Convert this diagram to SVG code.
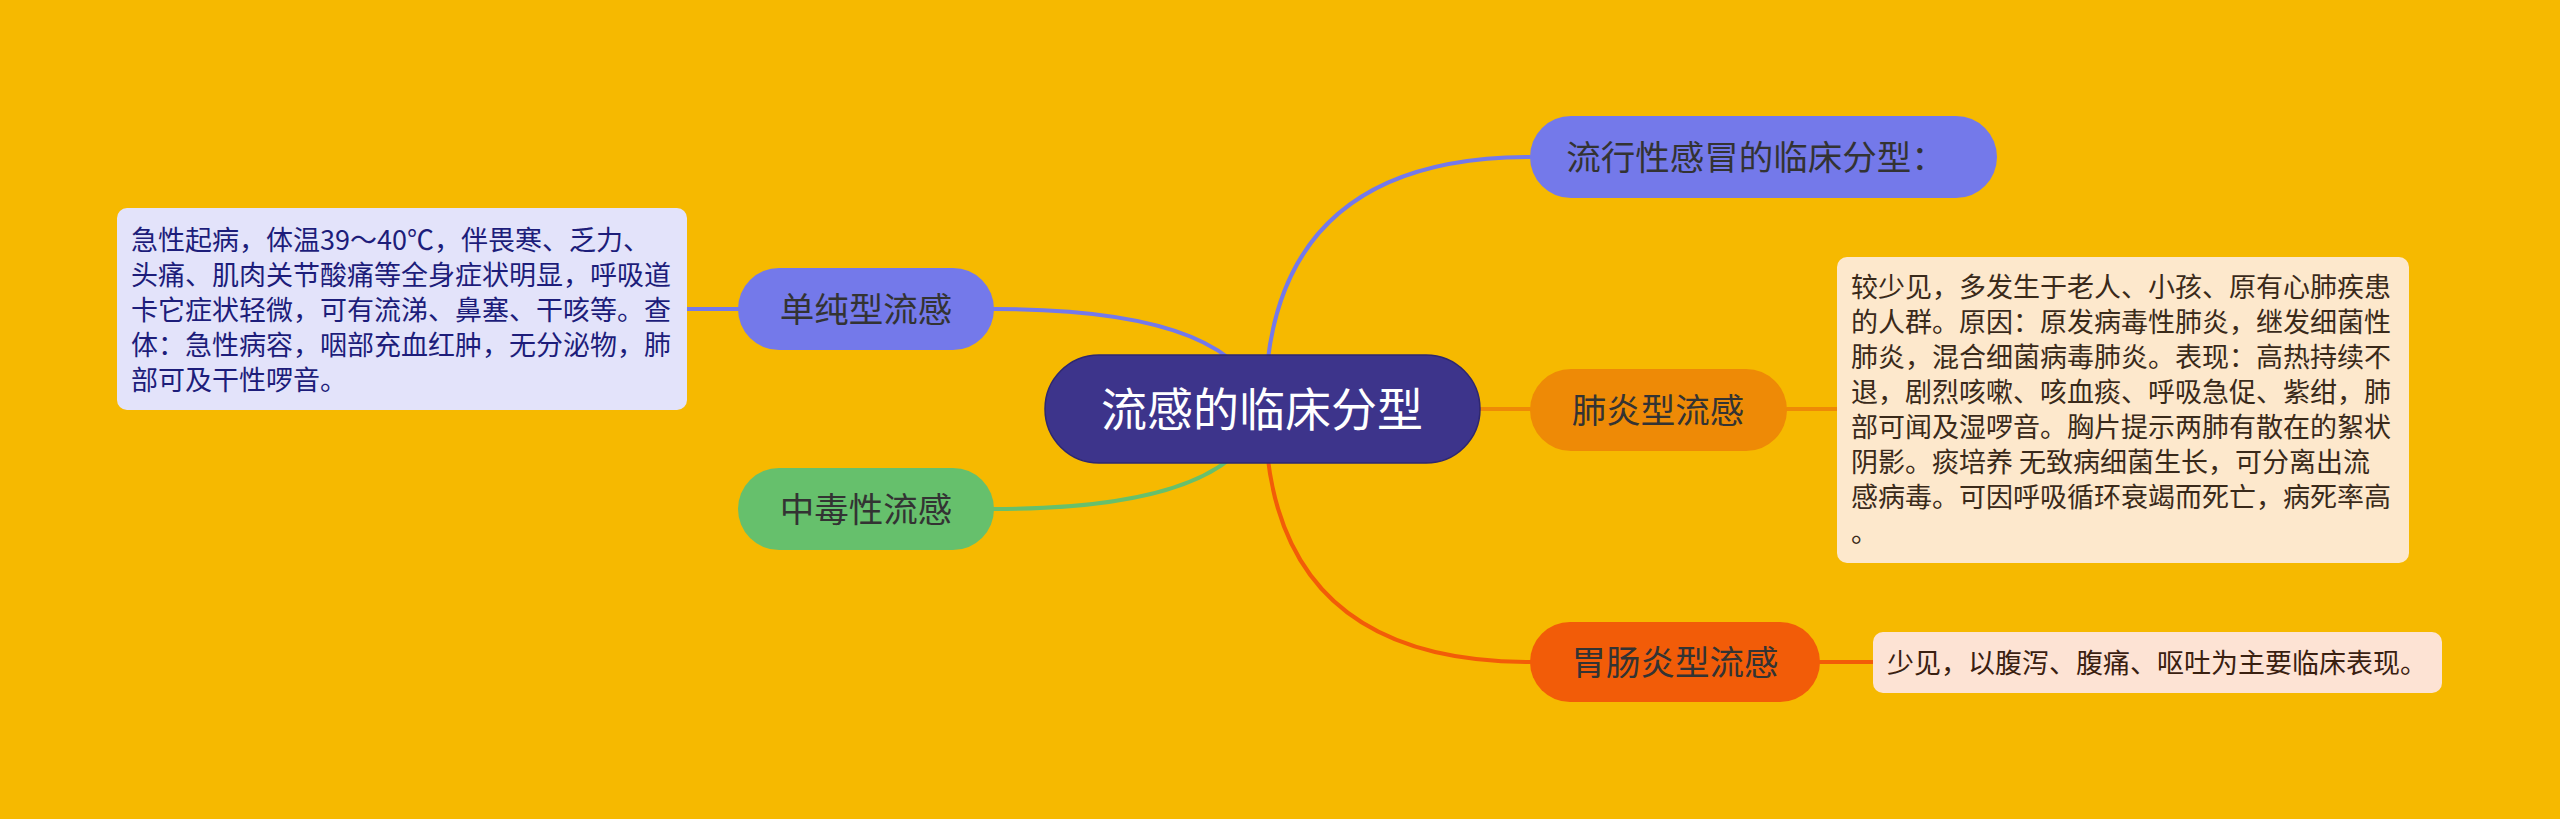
<svg xmlns="http://www.w3.org/2000/svg" width="2560" height="819" viewBox="0 0 2560 819">
<style>
text{font-family:"Noto Sans CJK SC","Noto Sans",sans-serif;}
.node{font-size:34.5px;text-anchor:middle;fill:#333333;}
.box{font-size:27px;}
.ln{fill:none;stroke-width:4;stroke-linecap:round;}
</style>
<rect x="0" y="0" width="2560" height="819" fill="#f6b900"/>
<g id="connectors">
<path class="ln" stroke="#7479ea" d="M1265,409 Q1265,157 1530,157"/>
<path class="ln" stroke="#ee8a06" d="M1470,409 L1530,409"/>
<path class="ln" stroke="#f25c08" d="M1265,409 Q1265,662 1530,662"/>
<path class="ln" stroke="#7479ea" d="M1262,409 Q1240,309 994,309"/>
<path class="ln" stroke="#66c06c" d="M1262,409 Q1240,509 994,509"/>
<path class="ln" stroke="#7479ea" d="M738,309 L687,309"/>
<path class="ln" stroke="#ee8a06" d="M1787,409 L1837,409"/>
<path class="ln" stroke="#f25c08" d="M1820,662 L1873,662"/>
</g>
<g id="root">
<rect x="1045" y="355" width="435" height="108" rx="54" fill="#3d348b" stroke="#2e2770" stroke-width="1.5"/>
<text x="1262" y="426" font-size="46" text-anchor="middle" fill="#ffffff">流感的临床分型</text>
</g>
<g id="n-top">
<rect x="1530" y="116" width="467" height="82" rx="41" fill="#7479ea"/>
<text class="node" x="1756" y="170">流行性感冒的临床分型：</text>
</g>
<g id="n-simple">
<rect x="738" y="268" width="256" height="82" rx="41" fill="#7479ea"/>
<text class="node" x="866" y="322">单纯型流感</text>
</g>
<g id="n-simple-box">
<rect x="117" y="208" width="570" height="202" rx="10" fill="#e3e3fa"/>
<text class="box" fill="#1d1d7a">
<tspan x="131" y="250">急性起病，体温39～40℃，伴畏寒、乏力、</tspan>
<tspan x="131" y="285">头痛、肌肉关节酸痛等全身症状明显，呼吸道</tspan>
<tspan x="131" y="320">卡它症状轻微，可有流涕、鼻塞、干咳等。查</tspan>
<tspan x="131" y="355">体：急性病容，咽部充血红肿，无分泌物，肺</tspan>
<tspan x="131" y="390">部可及干性啰音。</tspan>
</text>
</g>
<g id="n-toxic">
<rect x="738" y="468" width="256" height="82" rx="41" fill="#66c06c"/>
<text class="node" x="866" y="522" fill="#1f2f1f">中毒性流感</text>
</g>
<g id="n-pneu">
<rect x="1530" y="369" width="257" height="82" rx="41" fill="#ee8a06"/>
<text class="node" x="1658" y="423">肺炎型流感</text>
</g>
<g id="n-pneu-box">
<rect x="1837" y="257" width="572" height="306" rx="10" fill="#fde8cc"/>
<text class="box" fill="#3a2a1a">
<tspan x="1851" y="297">较少见，多发生于老人、小孩、原有心肺疾患</tspan>
<tspan x="1851" y="332">的人群。原因：原发病毒性肺炎，继发细菌性</tspan>
<tspan x="1851" y="367">肺炎，混合细菌病毒肺炎。表现：高热持续不</tspan>
<tspan x="1851" y="402">退，剧烈咳嗽、咳血痰、呼吸急促、紫绀，肺</tspan>
<tspan x="1851" y="437">部可闻及湿啰音。胸片提示两肺有散在的絮状</tspan>
<tspan x="1851" y="472">阴影。痰培养 无致病细菌生长，可分离出流</tspan>
<tspan x="1851" y="507">感病毒。可因呼吸循环衰竭而死亡，病死率高</tspan>
<tspan x="1851" y="542">。</tspan>
</text>
</g>
<g id="n-gastro">
<rect x="1530" y="622" width="290" height="80" rx="40" fill="#f25c08"/>
<text class="node" x="1675" y="675" fill="#ffffff">胃肠炎型流感</text>
</g>
<g id="n-gastro-box">
<rect x="1873" y="632" width="569" height="61" rx="10" fill="#fde3d4"/>
<text class="box" x="1887" y="673" fill="#3a2010">少见，以腹泻、腹痛、呕吐为主要临床表现。</text>
</g>
</svg>
